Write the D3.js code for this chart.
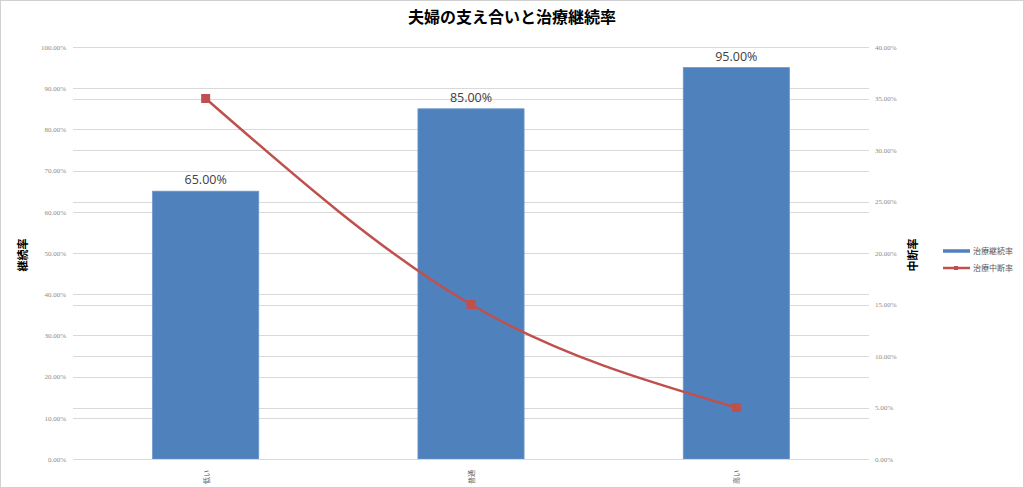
<!DOCTYPE html>
<html><head><meta charset="utf-8">
<script src="https://cdn.jsdelivr.net/npm/d3@7"></script>
<style>body{margin:0;background:#fff;}svg{display:block;font-family:"Noto Sans CJK JP","Noto Sans",sans-serif;}</style>
</head><body>
<svg id="c" width="1024" height="488"></svg>
<script>
const title = "夫婦の支え合いと治療継続率";
const categories = ["低い", "普通", "高い"];
const continueRate = [0.65, 0.85, 0.95];
const dropRate = [0.35, 0.15, 0.05];
const leftTicks = [0,0.1,0.2,0.3,0.4,0.5,0.6,0.7,0.8,0.9,1.0];
const rightTicks = [0,0.05,0.1,0.15,0.2,0.25,0.3,0.35,0.4];
const seriesNames = ["治療継続率", "治療中断率"];
const leftAxisTitle = "継続率";
const rightAxisTitle = "中断率";

const svg = d3.select("#c");
const W = 1024, H = 488;
const m = {l:73, r:155, t:47, b:29};
const x0 = m.l, x1 = W - m.r, y0 = H - m.b, y1 = m.t;

svg.append("rect").attr("x",0.5).attr("y",0.5).attr("width",W-1).attr("height",H-1)
  .attr("fill","#fff").attr("stroke","#d0d0d0");

const x = d3.scaleBand().domain(categories).range([x0, x1]).padding(0);
const yL = d3.scaleLinear().domain([0,1]).range([y0,y1]);
const yR = d3.scaleLinear().domain([0,0.4]).range([y0,y1]);
const fmt = d3.format(".2%");

// gridlines
const g = svg.append("g");
g.selectAll("line.gl").data(leftTicks).join("line").attr("class","gl")
  .attr("x1",x0).attr("x2",x1).attr("y1",d=>Math.round(yL(d))+0.5).attr("y2",d=>Math.round(yL(d))+0.5)
  .attr("stroke","#d9d9d9").attr("stroke-width",1);
g.selectAll("line.gr").data(rightTicks).join("line").attr("class","gr")
  .attr("x1",x0).attr("x2",x1).attr("y1",d=>Math.round(yR(d))+0.5).attr("y2",d=>Math.round(yR(d))+0.5)
  .attr("stroke","#d9d9d9").attr("stroke-width",1);

// axes
const axL = svg.append("g").attr("transform",`translate(${x0},0)`)
  .call(d3.axisLeft(yL).tickValues(leftTicks).tickFormat(fmt).tickSize(0).tickPadding(7));
axL.select(".domain").remove();
axL.selectAll("text").attr("fill","#8c8c8c").style("font-size","7px").style("font-family","'Liberation Serif',serif");

const axR = svg.append("g").attr("transform",`translate(${x1},0)`)
  .call(d3.axisRight(yR).tickValues(rightTicks).tickFormat(fmt).tickSize(0).tickPadding(6));
axR.select(".domain").remove();
axR.selectAll("text").attr("fill","#8c8c8c").style("font-size","7px").style("font-family","'Liberation Serif',serif");

// bars
const bw = x.bandwidth()*0.4;
svg.selectAll("rect.bar").data(categories).join("rect").attr("class","bar")
  .attr("x",d=>x(d)+x.bandwidth()/2-bw/2).attr("width",bw)
  .attr("y",(d,i)=>yL(continueRate[i])).attr("height",(d,i)=>y0-yL(continueRate[i]))
  .attr("fill","#4f81bd").attr("stroke","#6a96cc").attr("stroke-width",0.8);

// x axis line
svg.append("line").attr("x1",x0).attr("x2",x1).attr("y1",y0+0.5).attr("y2",y0+0.5).attr("stroke","#d9d9d9");

// data labels
svg.selectAll("text.dl").data(categories).join("text").attr("class","dl")
  .attr("x",d=>x(d)+x.bandwidth()/2).attr("y",(d,i)=>yL(continueRate[i])-7)
  .attr("text-anchor","middle").attr("fill","#404040").style("font-size","12.5px")
  .style("font-family","'Open Sans','Noto Sans',sans-serif")
  .text((d,i)=>fmt(continueRate[i]));

// line
const pts = categories.map((c,i)=>[x(c)+x.bandwidth()/2, yR(dropRate[i])]);
svg.append("path").attr("d", d3.line().curve(d3.curveMonotoneX)(pts))
  .attr("fill","none").attr("stroke","#c0504d").attr("stroke-width",2.5);
svg.selectAll("rect.mk").data(pts).join("rect").attr("class","mk")
  .attr("x",d=>d[0]-4.5).attr("y",d=>d[1]-4.5).attr("width",9).attr("height",9)
  .attr("fill","#c0504d");

// x labels (rotated)
svg.selectAll("text.xl").data(categories).join("text").attr("class","xl")
  .attr("transform",d=>`translate(${x(d)+x.bandwidth()/2+3},${y0+11}) rotate(-90)`)
  .attr("text-anchor","end").attr("fill","#595959").style("font-size","7px")
  .text(d=>d);

// title
svg.append("text").attr("x",512).attr("y",23).attr("text-anchor","middle")
  .attr("fill","#000").style("font-size","16px").style("font-weight","bold").text(title);

// axis titles
svg.append("text").attr("transform",`translate(${27},${255}) rotate(-90)`).attr("text-anchor","middle")
  .attr("fill","#000").style("font-size","11px").style("font-weight","bold").text(leftAxisTitle);
svg.append("text").attr("transform",`translate(${917},${255}) rotate(-90)`).attr("text-anchor","middle")
  .attr("fill","#000").style("font-size","11px").style("font-weight","bold").text(rightAxisTitle);

// legend
const lg = svg.append("g");
lg.append("line").attr("x1",943).attr("x2",970).attr("y1",251).attr("y2",251).attr("stroke","#4f81bd").attr("stroke-width",3.5);
lg.append("text").attr("x",973).attr("y",254).attr("fill","#595959").style("font-size","8px").text(seriesNames[0]);
lg.append("line").attr("x1",943).attr("x2",970).attr("y1",268).attr("y2",268).attr("stroke","#c0504d").attr("stroke-width",2.5);
lg.append("rect").attr("x",954).attr("y",266).attr("width",4).attr("height",4).attr("fill","#c0504d");
lg.append("text").attr("x",973).attr("y",271).attr("fill","#595959").style("font-size","8px").text(seriesNames[1]);
</script>
</body></html>
